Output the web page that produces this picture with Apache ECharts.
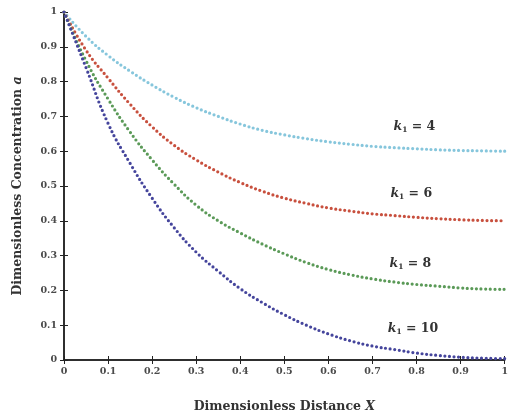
<!DOCTYPE html>
<html><head><meta charset="utf-8">
<script src="https://cdn.jsdelivr.net/npm/echarts@6/dist/echarts.min.js"></script>
<style>html,body{margin:0;padding:0;background:#fff}#c{width:511px;height:418px}</style>
</head><body><div id="c"></div>
<script>
const xValues = [0,0.05,0.1,0.15,0.2,0.25,0.3,0.35,0.4,0.45,0.5,0.55,0.6,0.65,0.7,0.75,0.8,0.85,0.9,0.95,1];
const k4  = [1.0,0.93,0.875,0.83,0.79,0.755,0.725,0.70,0.678,0.66,0.647,0.636,0.627,0.62,0.614,0.61,0.607,0.604,0.602,0.601,0.60];
const k6  = [1.0,0.89,0.81,0.735,0.67,0.617,0.575,0.54,0.51,0.485,0.465,0.45,0.437,0.428,0.42,0.415,0.41,0.406,0.403,0.401,0.40];
const k8  = [1.0,0.86,0.75,0.655,0.575,0.505,0.445,0.40,0.365,0.333,0.305,0.28,0.26,0.245,0.233,0.224,0.217,0.212,0.207,0.204,0.203];
const k10 = [1.0,0.84,0.68,0.565,0.465,0.38,0.31,0.255,0.205,0.165,0.13,0.10,0.075,0.055,0.04,0.03,0.02,0.013,0.008,0.005,0.004];
const kValues = ['4','6','8','10'];
const labelPos = [[0.795,0.671],[0.788,0.477],[0.786,0.277],[0.792,0.091]];
const colors = ['#86c6dc','#c8503e','#5b9a58','#45459c'];
const serif = 'DejaVu Serif, Liberation Serif, serif';
const tickFont = {fontFamily:serif,fontWeight:'bold',fontSize:9.5,color:'#4a4a4a'};
const titleRich = {a:{fontFamily:serif,fontWeight:'bold',fontSize:12.5,color:'#333'},
                   b:{fontFamily:serif,fontWeight:'bold',fontStyle:'italic',fontSize:12.5,color:'#333'}};

const allData = [k4,k6,k8,k10];
const series = allData.map((arr,i)=>({
  type:'line', name:'k1 = '+kValues[i], smooth:true, showSymbol:false, silent:true,
  data: xValues.map((x,j)=>[x,arr[j]]),
  lineStyle:{color:colors[i],width:3.2,type:[0,4.6],cap:'round'},
  markPoint:{symbol:'rect',symbolSize:1,itemStyle:{color:'transparent'},
    label:{show:true,position:'inside',formatter:'{k|k}{s|1}{t| = '+kValues[i]+'}',
      rich:{k:{fontFamily:serif,fontStyle:'italic',fontWeight:'bold',fontSize:12.5,color:'#333'},
            s:{fontFamily:serif,fontWeight:'bold',fontSize:7.5,color:'#333',verticalAlign:'bottom',padding:[7,0,0,0]},
            t:{fontFamily:serif,fontWeight:'bold',fontSize:12.5,color:'#333'}}},
    data:[{coord:labelPos[i]}]}
}));

const fmt = v => (Math.round(v*10)/10).toString();
const chart = echarts.init(document.getElementById('c'));
chart.setOption({
  animation:false,
  grid:{left:64,right:1,top:12,bottom:56},
  xAxis:[{type:'value',min:0,max:1,interval:0.1,position:'bottom',
    axisLine:{lineStyle:{color:'#222',width:1.5}},
    axisTick:{inside:true,length:4,lineStyle:{color:'#222'}},
    axisLabel:Object.assign({formatter:fmt,margin:7},tickFont),
    splitLine:{show:false},
    name:'{a|Dimensionless Distance }{b|X}',nameLocation:'middle',nameGap:40,
    nameTextStyle:{rich:titleRich}},
   {type:'value',min:0,max:1,interval:0.1,position:'top',
    axisLine:{show:true,lineStyle:{color:'#222',width:1.5}},
    axisTick:{inside:true,length:4,lineStyle:{color:'#222'}},
    axisLabel:{show:false},splitLine:{show:false}}],
  yAxis:[{type:'value',min:0,max:1,interval:0.1,position:'left',
    axisLine:{show:true,lineStyle:{color:'#222',width:1.5}},
    axisTick:{show:true,inside:true,length:4,lineStyle:{color:'#222'}},
    axisLabel:Object.assign({formatter:fmt,margin:7},tickFont),
    splitLine:{show:false},
    name:'{a|Dimensionless Concentration }{b|a}',nameLocation:'middle',nameGap:40,nameRotate:90,
    nameTextStyle:{rich:titleRich}},
   {type:'value',min:0,max:1,interval:0.1,position:'right',
    axisLine:{show:true,lineStyle:{color:'#222',width:1.5}},
    axisTick:{show:true,inside:true,length:4,lineStyle:{color:'#222'}},
    axisLabel:{show:false},splitLine:{show:false}}],
  series:series
});
</script></body></html>
